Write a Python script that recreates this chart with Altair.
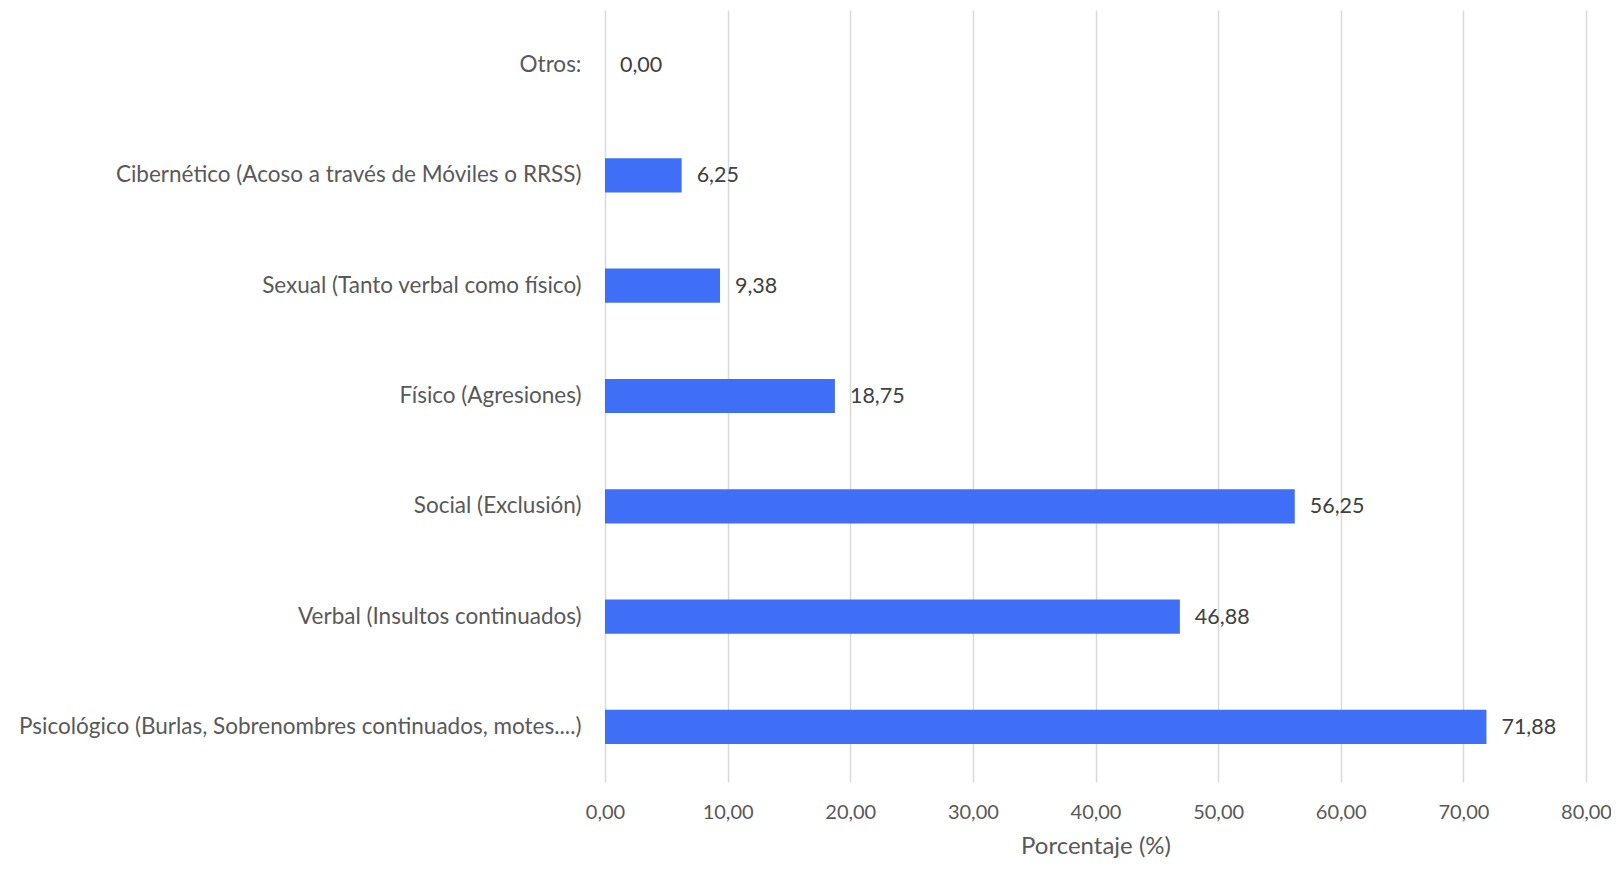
import altair as alt
import pandas as pd

categories = [
    "Otros:",
    "Cibernético (Acoso a través de Móviles o RRSS)",
    "Sexual (Tanto verbal como físico)",
    "Físico (Agresiones)",
    "Social (Exclusión)",
    "Verbal (Insultos continuados)",
    "Psicológico (Burlas, Sobrenombres continuados, motes....)",
]
values = [0.00, 6.25, 9.38, 18.75, 56.25, 46.88, 71.88]

df = pd.DataFrame({"cat": categories, "val": values})

FONT = "Lato"

base = alt.Chart(df).transform_calculate(
    lbl="replace(format(datum.val, '.2f'), '.', ',')"
)

y_enc = alt.Y(
    "cat:N",
    sort=categories,
    title=None,
    scale=alt.Scale(paddingInner=0.69, paddingOuter=0.345),
    axis=alt.Axis(
        domain=False, ticks=False, grid=False,
        labelFontSize=22.5, labelColor="#595959", labelFont=FONT,
        labelPadding=24, labelLimit=700,
    ),
)

x_enc = alt.X(
    "val:Q",
    title="Porcentaje (%)",
    scale=alt.Scale(domain=[0, 80], nice=False),
    axis=alt.Axis(
        values=[0, 10, 20, 30, 40, 50, 60, 70, 80],
        labelExpr="replace(format(datum.value, '.2f'), '.', ',')",
        domain=False, ticks=False, labelFlush=False,
        grid=True, gridColor="#D9D9D9", gridWidth=1.5,
        labelFontSize=20, labelColor="#595959", labelFont=FONT,
        labelPadding=20,
        titleFontSize=24, titleColor="#595959", titleFont=FONT,
        titleFontWeight="normal", titlePadding=12,
    ),
)

bars = base.mark_bar(color="#3E6FF6").encode(x=x_enc, y=y_enc)

labels = base.mark_text(
    align="left", baseline="middle", dx=15, dy=1,
    fontSize=21.5, font=FONT, color="#404040",
).encode(x="val:Q", y=alt.Y("cat:N", sort=categories), text="lbl:N")

chart = (bars + labels).properties(
    width=981,
    height=772,
    autosize=alt.AutoSizeParams(type="none"),
    padding={"left": 597, "top": 2, "right": 25, "bottom": 79},
).configure(background="white").configure_view(stroke=None, strokeWidth=0)

chart.save("out.html", embed_options={"renderer": "svg", "actions": False})
